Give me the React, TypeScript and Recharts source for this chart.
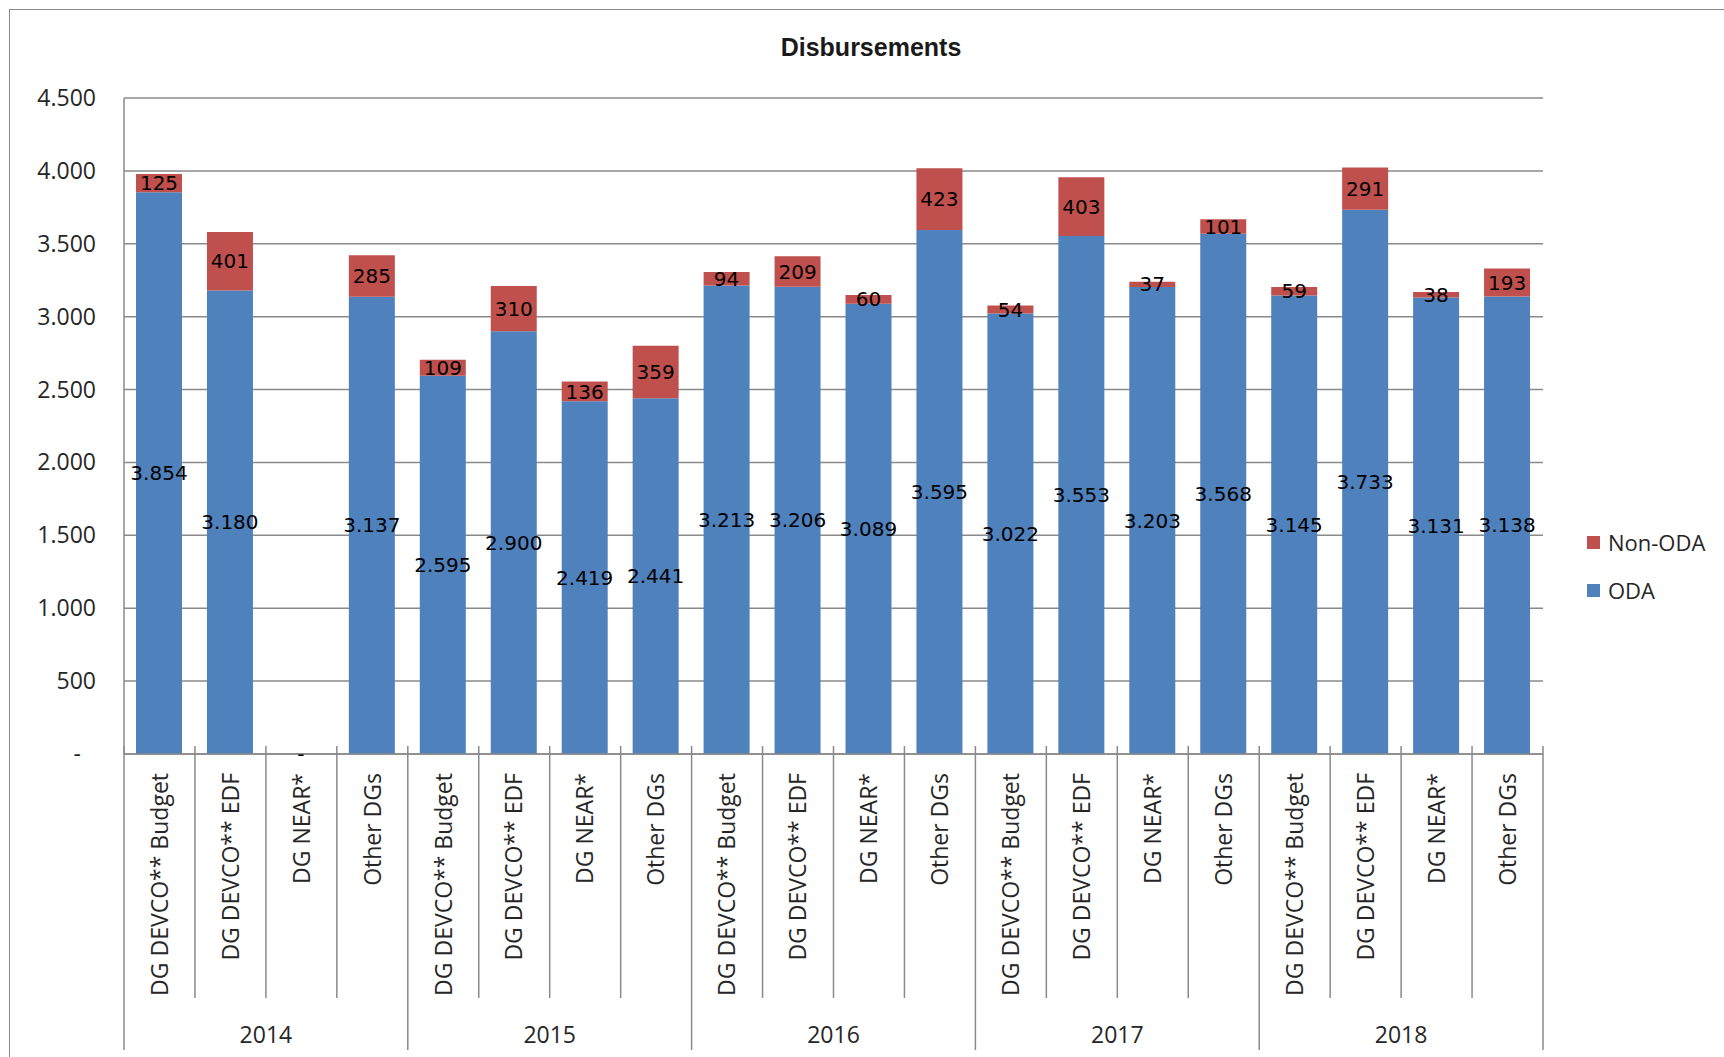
import { BarChart, Bar, XAxis, YAxis, CartesianGrid, LabelList, Legend } from 'recharts';

const YEARS = ['2014', '2015', '2016', '2017', '2018'];
const DGS = ['DG DEVCO** Budget', 'DG DEVCO** EDF', 'DG NEAR*', 'Other DGs'];
// ODA and Non-ODA per DG, years in order
const ODA = [3854, 3180, 0, 3137, 2595, 2900, 2419, 2441, 3213, 3206, 3089, 3595, 3022, 3553, 3203, 3568, 3145, 3733, 3131, 3138];
const NON_ODA = [125, 401, 0, 285, 109, 310, 136, 359, 94, 209, 60, 423, 54, 403, 37, 101, 59, 291, 38, 193];
const Y_TICKS = [0, 500, 1000, 1500, 2000, 2500, 3000, 3500, 4000, 4500];

const data = YEARS.flatMap((year, i) =>
  DGS.map((dg, j) => ({ name: dg, year, oda: ODA[i * 4 + j], nonOda: NON_ODA[i * 4 + j] }))
);

const W = 1724;
const H = 1057;
const TOP = 98;
const LEFT = 124;
const RIGHT = 181;
const CAT_H = 244;
const YEAR_H = 59;
const PLOT_W = W - LEFT - RIGHT;
const PLOT_BOTTOM = H - CAT_H - YEAR_H;
const BAND = PLOT_W / data.length;

const BLUE = '#4f81bd';
const RED = '#c0504d';
const GRID = '#8a8a8a';
const AXIS_FONT = '"Open Sans", sans-serif';
const LABEL_FONT = '"DejaVu Sans", sans-serif';

const fmt = (v: number) => (v === 0 ? '-' : String(v).replace(/\B(?=(\d{3})+(?!\d))/g, '.'));

const YTick = (props: any) => {
  const { x, y, payload } = props;
  const zero = payload.value === 0;
  return (
    <text x={zero ? x - 15 : x} y={y} dy="0.35em" textAnchor="end" fontSize={23} fontFamily={AXIS_FONT} fill="#262626">
      {fmt(payload.value)}
    </text>
  );
};

const CatTick = (props: any) => {
  const { x, payload } = props;
  const i = payload.index;
  const left = x - BAND / 2;
  return (
    <g>
      {i % 4 !== 0 && (
        <line x1={left} x2={left} y1={PLOT_BOTTOM - 8} y2={PLOT_BOTTOM + CAT_H} stroke={GRID} strokeWidth={1.5} />
      )}
      <text
        x={x}
        y={PLOT_BOTTOM + 19}
        transform={`rotate(-90, ${x}, ${PLOT_BOTTOM + 19})`}
        textAnchor="end"
        dy="0.36em"
        fontSize={23}
        fontFamily={AXIS_FONT}
        fill="#262626"
      >
        {payload.value}
      </text>
    </g>
  );
};

const YearTick = (props: any) => {
  const { x, payload } = props;
  const i = payload.index;
  const left = x - BAND / 2;
  const right = x + BAND / 2;
  return (
    <g>
      {i % 4 === 0 && (
        <>
          <line x1={left} x2={left} y1={PLOT_BOTTOM - 8} y2={H - 7} stroke={GRID} strokeWidth={1.5} />
          <text x={left + BAND * 2} y={H - 14} textAnchor="middle" fontSize={23} fontFamily={AXIS_FONT} fill="#262626">
            {data[i].year}
          </text>
        </>
      )}
      {i === data.length - 1 && (
        <line x1={right} x2={right} y1={PLOT_BOTTOM - 8} y2={H - 7} stroke={GRID} strokeWidth={1.5} />
      )}
    </g>
  );
};

const renderLegend = () => {
  const items = [
    { name: 'Non-ODA', color: RED },
    { name: 'ODA', color: BLUE },
  ];
  return (
    <div style={{ fontFamily: AXIS_FONT, fontSize: 22, color: '#262626' }}>
      {items.map(item => (
        <div key={item.name} style={{ display: 'flex', alignItems: 'center', height: 48 }}>
          <span style={{ width: 13, height: 13, background: item.color, marginRight: 8, display: 'inline-block' }} />
          <span>{item.name}</span>
        </div>
      ))}
    </div>
  );
};

export default function App() {
  return (
    <div style={{ position: 'absolute', left: 0, top: 0, width: W, height: H, background: '#fff', overflow: 'hidden' }}>
      <div
        style={{
          position: 'absolute',
          left: 9,
          top: 9,
          width: W,
          height: H,
          border: '1.5px solid #8a8a8a',
        }}
      />
      <div
        style={{
          position: 'absolute',
          left: 0,
          top: 33,
          width: 1742,
          textAlign: 'center',
          fontFamily: '"Liberation Sans", Arial, sans-serif',
          fontWeight: 'bold',
          fontSize: 25,
          color: '#1a1a1a',
        }}
      >
        Disbursements
      </div>
      <BarChart
        width={W}
        height={H}
        data={data}
        margin={{ top: TOP, right: RIGHT, bottom: 0, left: 0 }}
        barSize={46}
        style={{ position: 'absolute', left: 0, top: 0 }}
      >
        <CartesianGrid vertical={false} stroke={GRID} strokeWidth={1.5} />
        <YAxis
          width={LEFT}
          domain={[0, 4500]}
          ticks={Y_TICKS}
          interval={0}
          tickLine={false}
          tickSize={0}
          tickMargin={28}
          axisLine={{ stroke: GRID, strokeWidth: 1.5 }}
          tick={<YTick />}
        />
        <XAxis
          dataKey="name"
          height={CAT_H}
          interval={0}
          tickLine={false}
          axisLine={{ stroke: GRID, strokeWidth: 1.5 }}
          tick={<CatTick />}
        />
        <XAxis
          dataKey="name"
          xAxisId="year"
          height={YEAR_H}
          interval={0}
          tickLine={false}
          axisLine={false}
          tick={<YearTick />}
        />
        <Bar dataKey="oda" name="ODA" stackId="a" fill={BLUE} minPointSize={0.01} isAnimationActive={false}>
          <LabelList dataKey="oda" position="center" formatter={(v: any) => fmt(v)} fill="#000" fontSize={20} fontFamily={LABEL_FONT} />
        </Bar>
        <Bar dataKey="nonOda" name="Non-ODA" stackId="a" fill={RED} isAnimationActive={false}>
          <LabelList dataKey="nonOda" position="center" formatter={(v: any) => fmt(v)} fill="#000" fontSize={20} fontFamily={LABEL_FONT} />
        </Bar>
        <Legend
          layout="horizontal"
          verticalAlign="middle"
          align="center"
          content={renderLegend}
          wrapperStyle={{ left: 1587, top: 518, width: 140, height: 100 }}
        />
      </BarChart>
    </div>
  );
}
